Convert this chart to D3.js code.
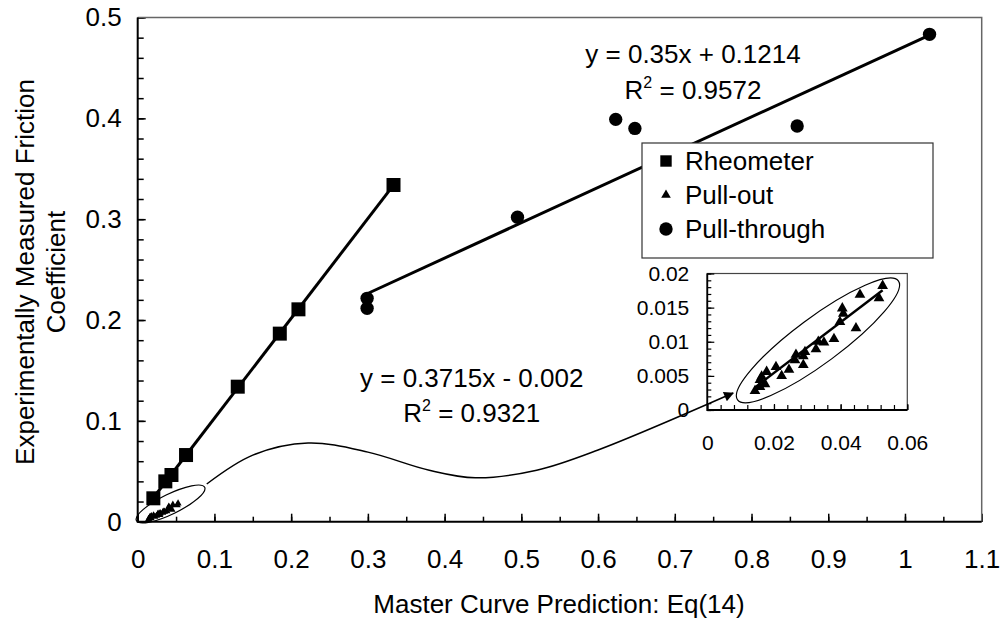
<!DOCTYPE html>
<html>
<head>
<meta charset="utf-8">
<script src="https://cdn.jsdelivr.net/npm/d3@7"></script>
<style>
body { margin: 0; background: #fff; }
text { font-family: Arial, "Liberation Sans", sans-serif; fill: #000; }
</style>
</head>
<body>
<svg id="chart"></svg>
<script>
// Rheometer points
const rheoX = [0.0204, 0.036, 0.044, 0.063, 0.1304, 0.1852, 0.2095, 0.3334];
const rheoY = [0.0232, 0.040, 0.0463, 0.0661, 0.1339, 0.1865, 0.2106, 0.3339];
// Pull-through points
const throughX = [0.299, 0.299, 0.495, 0.623, 0.648, 0.8595, 1.032];
const throughY = [0.2215, 0.2116, 0.302, 0.399, 0.390, 0.3924, 0.4833];
// Pull-out points (also shown in the inset)
const outX = [0.0526, 0.0515, 0.0458, 0.0405, 0.0408, 0.0398, 0.0446, 0.0380, 0.0350, 0.0333, 0.0326, 0.0293, 0.0288,
    0.0266, 0.0263, 0.0288, 0.0245, 0.0206, 0.0223, 0.0178, 0.0163, 0.0158, 0.0173, 0.0158, 0.0143];
const outY = [0.0182, 0.0164, 0.0169, 0.0149, 0.0141, 0.0129, 0.0120, 0.0104, 0.0099, 0.0100, 0.0089, 0.0085, 0.0079,
    0.0081, 0.0073, 0.0066, 0.0059, 0.0063, 0.0050, 0.0056, 0.0049, 0.0044, 0.0038, 0.0034, 0.0028];

// trendline coefficients [slope, intercept]
const throughFit = [0.35, 0.1214];
const outFit = [0.3715, -0.002];

const throughEq = ["y = 0.35x + 0.1214", "0.9572"];
const outEq = ["y = 0.3715x - 0.002", "0.9321"];
const legendNames = ["Rheometer", "Pull-out", "Pull-through"];

// curve from the small ellipse to the inset (data units)
const arrowPath = [[0.090, 0.0374], [0.15, 0.066], [0.222, 0.078], [0.30, 0.069], [0.38, 0.051],
    [0.44, 0.0435], [0.52, 0.051], [0.60, 0.0711], [0.776, 0.1276]];

const xTicks = d3.range(0, 1.1001, 0.1);
const yTicks = d3.range(0, 0.5001, 0.1);
const insetXTicks = [0, 0.02, 0.04, 0.06];
const insetYTicks = [0, 0.005, 0.01, 0.015, 0.02];

const width = 1002, height = 621;
const svg = d3.select("#chart").attr("width", width).attr("height", height);

// Scales setup
const x = d3.scaleLinear().domain([0, 1.1]).range([137.7, 981.7]);
const y = d3.scaleLinear().domain([0, 0.5]).range([521.7, 17.5]);

// minor ticks
svg.append("g").attr("transform", `translate(0,${y(0)})`)
    .call(d3.axisBottom(x).tickValues(d3.range(0, 1.1001, 0.05)).tickSize(-5).tickFormat(""))
    .call(g => g.select(".domain").remove());
svg.append("g").attr("transform", `translate(${x(0)},0)`)
    .call(d3.axisLeft(y).tickValues(d3.range(0, 0.5001, 0.02)).tickSize(-6).tickFormat(""))
    .call(g => g.select(".domain").remove());

// major ticks + labels
const gx = svg.append("g").attr("transform", `translate(0,${y(0)})`)
    .call(d3.axisBottom(x).tickValues(xTicks).tickSize(-8).tickPadding(28).tickFormat(d3.format("~g")));
gx.select(".domain").remove();
gx.selectAll("text").attr("font-size", 26).attr("font-family", "Arial, 'Liberation Sans', sans-serif");

const gy = svg.append("g").attr("transform", `translate(${x(0)},0)`)
    .call(d3.axisLeft(y).tickValues(yTicks).tickSize(-8).tickPadding(16).tickFormat(d3.format("~g")));
gy.select(".domain").remove();
gy.selectAll("text").attr("font-size", 26).attr("font-family", "Arial, 'Liberation Sans', sans-serif");
svg.selectAll(".tick line").attr("stroke", "#000").attr("stroke-width", 1.5);

// frame
svg.append("path")
    .attr("d", `M${x(0)},${y(0.5)}H${x(1.1)}V${y(0)}`)
    .attr("fill", "none").attr("stroke", "#666").attr("stroke-width", 1.5);
svg.append("path")
    .attr("d", `M${x(0)},${y(0.5)}V${y(0)}H${x(1.1)}`)
    .attr("fill", "none").attr("stroke", "#000").attr("stroke-width", 2);

// axis titles
svg.append("text").attr("x", 559).attr("y", 613).attr("text-anchor", "middle")
    .attr("font-size", 26).text("Master Curve Prediction: Eq(14)");
const yt = svg.append("text").attr("transform", "translate(34,272) rotate(-90)")
    .attr("text-anchor", "middle").attr("font-size", 26);
yt.append("tspan").attr("x", 0).attr("dy", 0).text("Experimentally Measured Friction");
yt.append("tspan").attr("x", 0).attr("dy", 31).text("Coefficient");

const line = d3.line().x(d => x(d[0])).y(d => y(d[1]));

// rheometer trendline, least squares on the data
const rheo = rheoX.map((v, i) => [v, rheoY[i]]);
const mx = d3.mean(rheoX), my = d3.mean(rheoY);
const slope = d3.sum(rheo, d => (d[0] - mx) * (d[1] - my)) / d3.sum(rheo, d => (d[0] - mx) ** 2);
const icpt = my - slope * mx;
const rx = d3.extent(rheoX);
svg.append("path").attr("d", line(rx.map(v => [v, slope * v + icpt])))
    .attr("stroke", "#000").attr("stroke-width", 3).attr("fill", "none");

// pull-through trendline
const tx = d3.extent(throughX);
svg.append("path").attr("d", line(tx.map(v => [v, throughFit[0] * v + throughFit[1]])))
    .attr("stroke", "#000").attr("stroke-width", 3).attr("fill", "none");

// pull-out trendline
const ox = d3.extent(outX);
svg.append("path").attr("d", line(ox.map(v => [v, outFit[0] * v + outFit[1]])))
    .attr("stroke", "#000").attr("stroke-width", 2).attr("fill", "none");

// markers
svg.append("g").selectAll("path").data(rheo).join("path")
    .attr("d", d3.symbol(d3.symbolSquare, 196))
    .attr("transform", d => `translate(${x(d[0])},${y(d[1])})`);
svg.append("g").selectAll("path").data(throughX.map((v, i) => [v, throughY[i]])).join("path")
    .attr("d", d3.symbol(d3.symbolCircle, 140))
    .attr("transform", d => `translate(${x(d[0])},${y(d[1])})`);
const pullOut = outX.map((v, i) => [v, outY[i]]);
svg.append("g").selectAll("path").data(pullOut).join("path")
    .attr("d", d3.symbol(d3.symbolTriangle, 22))
    .attr("transform", d => `translate(${x(d[0])},${y(d[1])})`);

// ellipse around pull-out cluster
svg.append("ellipse")
    .attr("transform", `translate(${x(0.0428)},${y(0.0176)}) rotate(-26)`)
    .attr("rx", 38).attr("ry", 10).attr("fill", "none").attr("stroke", "#000").attr("stroke-width", 1.2);

// equations
function equation(cx, by, eq) {
    svg.append("text").attr("x", cx).attr("y", by).attr("text-anchor", "middle")
        .attr("font-size", 26).text(eq[0]);
    const t = svg.append("text").attr("x", cx).attr("y", by + 35.5).attr("text-anchor", "middle")
        .attr("font-size", 26);
    t.append("tspan").text("R");
    t.append("tspan").attr("font-size", 16).attr("dy", -11).text("2");
    t.append("tspan").attr("dy", 11).text(" = " + eq[1]);
}
equation(693, 63.3, throughEq);
equation(471.7, 386.7, outEq);

// legend
const lg = svg.append("g");
lg.append("rect").attr("x", 642).attr("y", 143).attr("width", 291).attr("height", 115)
    .attr("fill", "#fff").attr("stroke", "#333").attr("stroke-width", 1.2);
const symbols = [[d3.symbolSquare, 130], [d3.symbolTriangle, 40], [d3.symbolCircle, 140]];
legendNames.forEach((name, i) => {
    const cy = 161 + i * 34;
    lg.append("path").attr("d", d3.symbol(symbols[i][0], symbols[i][1]))
        .attr("transform", `translate(666,${cy})`);
    lg.append("text").attr("x", 685).attr("y", cy + 9.3).attr("font-size", 26).text(name);
});

// inset
const ix = d3.scaleLinear().domain([0, 0.06]).range([707.3, 907.3]);
const iy = d3.scaleLinear().domain([0, 0.02]).range([410, 273.5]);
const inset = svg.append("g");
inset.append("rect").attr("x", ix(0)).attr("y", iy(0.02))
    .attr("width", ix(0.06) - ix(0)).attr("height", iy(0) - iy(0.02))
    .attr("fill", "#fff").attr("stroke", "#444").attr("stroke-width", 1.2);
inset.append("g").attr("transform", `translate(0,${iy(0)})`)
    .call(d3.axisBottom(ix).tickValues(d3.range(0, 0.0601, 0.004)).tickSize(-5).tickFormat(""))
    .call(g => g.select(".domain").remove());
inset.append("g").attr("transform", `translate(${ix(0)},0)`)
    .call(d3.axisLeft(iy).tickValues(d3.range(0, 0.02001, 0.001)).tickSize(-4).tickFormat(""))
    .call(g => g.select(".domain").remove());
const igx = inset.append("g").attr("transform", `translate(0,${iy(0)})`)
    .call(d3.axisBottom(ix).tickValues(insetXTicks).tickSize(-6).tickPadding(25).tickFormat(d3.format("~g")));
igx.select(".domain").remove();
igx.selectAll("text").attr("font-size", 21).attr("font-family", "Arial, 'Liberation Sans', sans-serif");
const igy = inset.append("g").attr("transform", `translate(${ix(0)},0)`)
    .call(d3.axisLeft(iy).tickValues(insetYTicks).tickSize(-7).tickPadding(18).tickFormat(d3.format("~g")));
igy.select(".domain").remove();
igy.selectAll("text").attr("font-size", 21).attr("font-family", "Arial, 'Liberation Sans', sans-serif");
inset.selectAll(".tick line").attr("stroke", "#000").attr("stroke-width", 1.2);
inset.append("path")
    .attr("d", `M${ix(0)},${iy(0.02)}V${iy(0)}H${ix(0.06)}`)
    .attr("fill", "none").attr("stroke", "#000").attr("stroke-width", 1.8);

inset.append("path").attr("d", d3.line().x(d => ix(d[0])).y(d => iy(d[1]))(ox.map(v => [v, outFit[0] * v + outFit[1]])))
    .attr("stroke", "#000").attr("stroke-width", 2.5).attr("fill", "none");
inset.append("g").selectAll("path").data(pullOut).join("path")
    .attr("d", d3.symbol(d3.symbolTriangle, 50))
    .attr("transform", d => `translate(${ix(d[0])},${iy(d[1])})`);
inset.append("ellipse")
    .attr("transform", `translate(${ix(0.0332)},${iy(0.0102)}) rotate(-36.5)`)
    .attr("rx", 100).attr("ry", 23).attr("fill", "none").attr("stroke", "#000").attr("stroke-width", 1.2);

// arrow curve, drawn on top of the inset
svg.append("defs").append("marker").attr("id", "arrow")
    .attr("viewBox", "0 0 10 10").attr("refX", 9).attr("refY", 5)
    .attr("markerWidth", 12).attr("markerHeight", 10).attr("markerUnits", "userSpaceOnUse")
    .attr("orient", "auto")
    .append("path").attr("d", "M0,0L10,5L0,10Z").attr("fill", "#000");
svg.append("path").attr("d", d3.line().x(d => x(d[0])).y(d => y(d[1])).curve(d3.curveCatmullRom)(arrowPath))
    .attr("fill", "none").attr("stroke", "#000").attr("stroke-width", 1.5)
    .attr("marker-end", "url(#arrow)");
</script>
</body>
</html>
